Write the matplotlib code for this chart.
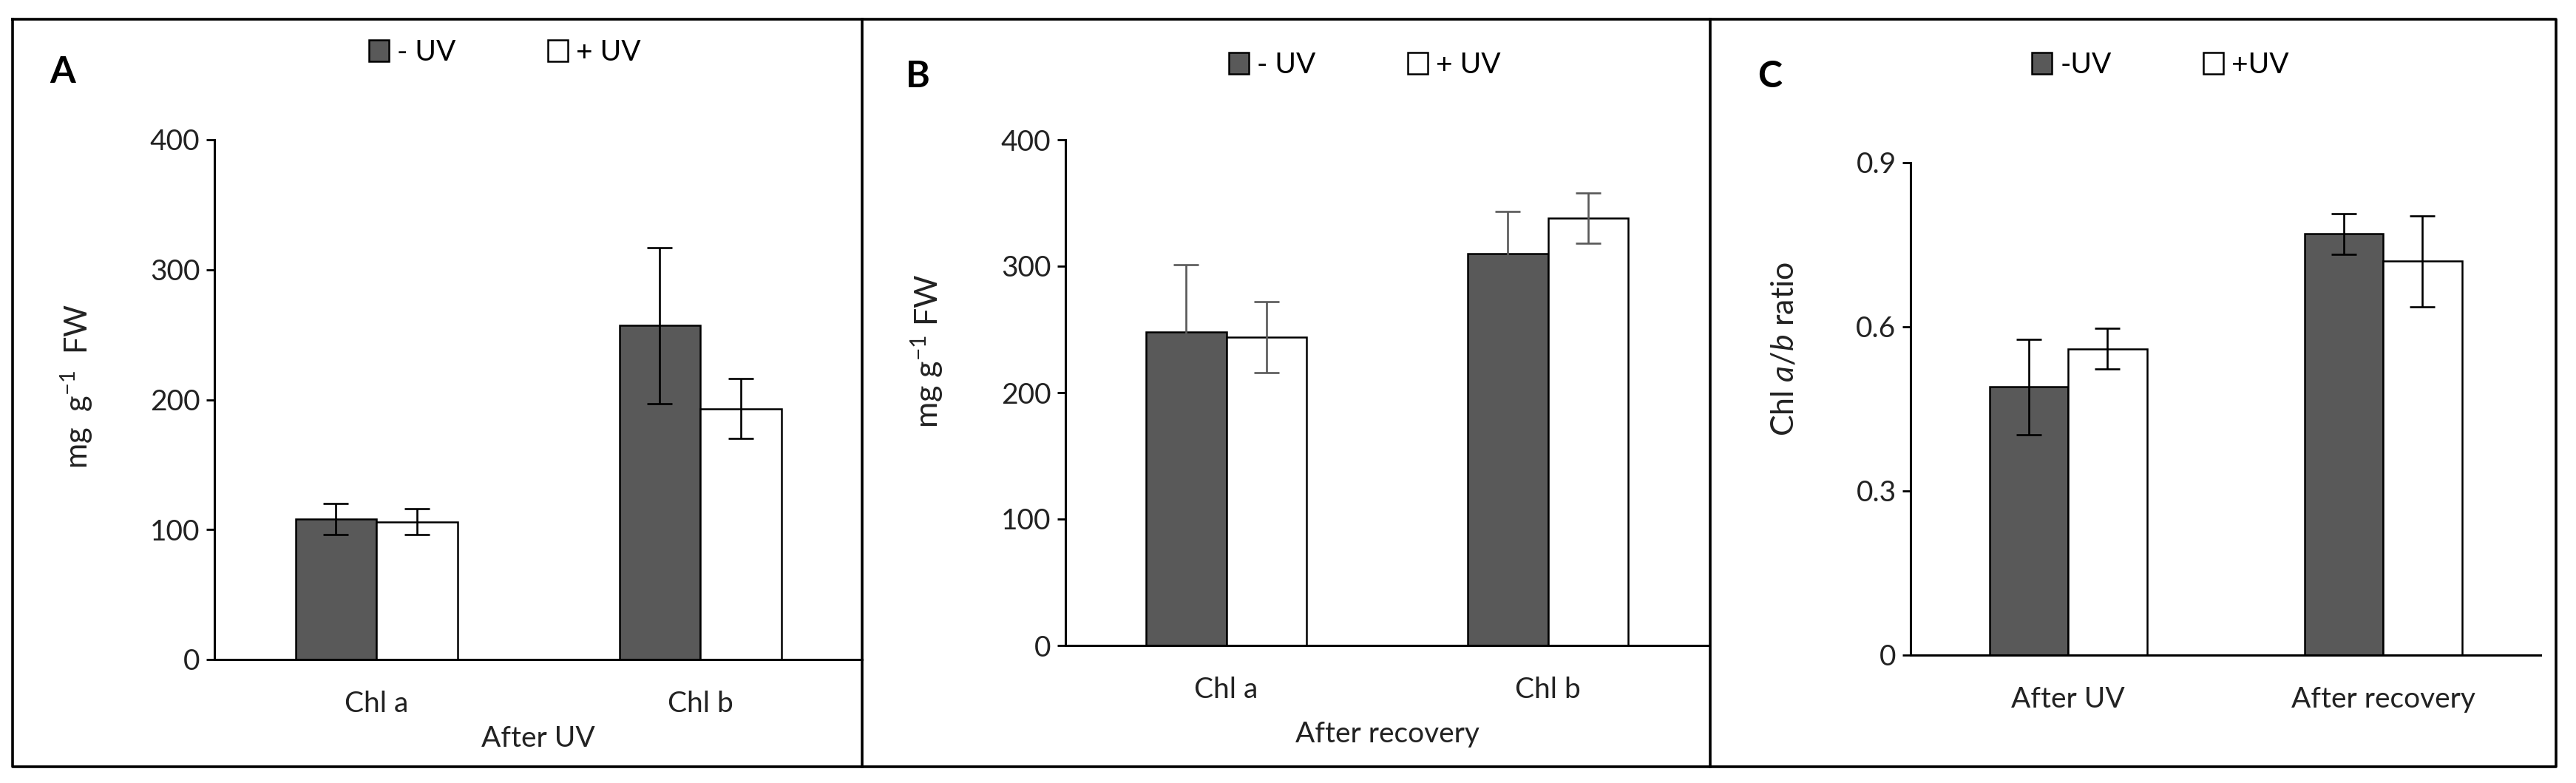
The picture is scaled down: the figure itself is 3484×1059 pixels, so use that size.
import numpy as np
import matplotlib
matplotlib.use("Agg")
import matplotlib.pyplot as plt
from matplotlib.lines import Line2D
from matplotlib.patches import Patch

plt.rcParams['font.family'] = ['Lato', 'DejaVu Sans']
plt.rcParams['mathtext.fontset'] = 'custom'
plt.rcParams['mathtext.rm'] = 'Lato'
plt.rcParams['mathtext.it'] = 'Lato:italic'

# data
chl_cats = ['Chl a', 'Chl b']
a_minus = [108, 257]
a_minus_err = [12, 60]
a_plus = [106, 193]
a_plus_err = [10, 23]

b_minus = [248, 310]
b_minus_err = [53, 33]
b_plus = [244, 338]
b_plus_err = [28, 20]

ratio_cats = ['After UV', 'After recovery']
c_minus = [0.49, 0.77]
c_minus_err = [0.087, 0.037]
c_plus = [0.56, 0.72]
c_plus_err = [0.037, 0.083]

chl_ticks = [0, 100, 200, 300, 400]
chl_ticklabels = ['0', '100', '200', '300', '400']
ratio_ticks = [0, 0.3, 0.6, 0.9]
ratio_ticklabels = ['0', '0.3', '0.6', '0.9']

W, H = 3484, 1059
DPI = 100
DARK = '#595959'
FS = 28

fig = plt.figure(figsize=(W / DPI, H / DPI), dpi=DPI)


def px_axes(left, right, y0, ytop):
    return fig.add_axes([left / W, (H - y0) / H, (right - left) / W, (y0 - ytop) / H])


def draw_panel(ax, cats, minus, minus_err, plus, plus_err, ticks, ticklabels, ecolor):
    x = np.arange(len(cats))
    w = 0.25
    ax.bar(x - w / 2, minus, w, color=DARK, edgecolor='black', linewidth=1.8, zorder=2)
    ax.bar(x + w / 2, plus, w, color='white', edgecolor='black', linewidth=1.8, zorder=2)
    ax.errorbar(x - w / 2, minus, yerr=minus_err, fmt='none', ecolor=ecolor,
                elinewidth=1.9, capsize=12, capthick=1.9, zorder=3)
    ax.errorbar(x + w / 2, plus, yerr=plus_err, fmt='none', ecolor=ecolor,
                elinewidth=1.9, capsize=12, capthick=1.9, zorder=3)
    ax.set_xlim(-0.5, len(cats) - 0.5)
    ax.set_ylim(ticks[0], ticks[-1])
    ax.set_xticks(x)
    ax.set_xticklabels(cats, fontsize=FS)
    ax.set_yticks(ticks)
    ax.set_yticklabels(ticklabels, fontsize=FS)
    for s in ['top', 'right']:
        ax.spines[s].set_visible(False)
    for s in ['left', 'bottom']:
        ax.spines[s].set_linewidth(2.2)
    ax.tick_params(axis='x', length=0, pad=30, labelcolor='#222222')
    ax.tick_params(axis='y', length=8, width=2.0, pad=6, labelcolor='#222222')
    ax.patch.set_alpha(0)


def add_legend(cx, cy, labels):
    handles = [Patch(facecolor=DARK, edgecolor='black', linewidth=1.8),
               Patch(facecolor='white', edgecolor='black', linewidth=1.8)]
    fig.legend(handles, labels, loc='center', bbox_to_anchor=(cx / W, 1 - cy / H),
               ncol=2, frameon=False, fontsize=FS, handlelength=0.7, handleheight=0.75,
               handletextpad=0.28, columnspacing=3.2, borderaxespad=0, borderpad=0)


# panel A
axA = px_axes(290, 1166, 892, 189)
draw_panel(axA, chl_cats, a_minus, a_minus_err, a_plus, a_plus_err,
           chl_ticks, chl_ticklabels, 'black')
axA.set_ylabel(r'mg  g$^{\mathregular{-1}}$  FW', fontsize=30, va='center', ha='center',
               color='#222222')
axA.yaxis.set_label_coords((104 - 290) / 876, (892 - 522) / 703)
axA.set_xlabel('After UV', fontsize=FS, va='center', color='#222222')
axA.xaxis.set_label_coords(0.5, (892 - 999) / 703)
add_legend(683, 71, ['- UV', '+ UV'])
fig.text(85 / W, 1 - 97 / H, 'A', fontsize=36, fontweight='bold', ha='center', va='center')

# panel B
axB = px_axes(1441, 2311, 873, 189)
draw_panel(axB, chl_cats, b_minus, b_minus_err, b_plus, b_plus_err,
           chl_ticks, chl_ticklabels, DARK)
axB.set_ylabel(r'mg g$^{\mathregular{-1}}$ FW', fontsize=31, va='center', ha='center',
               color='#222222')
axB.yaxis.set_label_coords((1254 - 1441) / 870, (873 - 475) / 684)
axB.set_xlabel('After recovery', fontsize=FS, va='center', color='#222222')
axB.xaxis.set_label_coords(0.5, (873 - 993) / 684)
add_legend(1846, 88, ['- UV', '+ UV'])
fig.text(1241 / W, 1 - 103 / H, 'B', fontsize=36, fontweight='bold', ha='center', va='center')

# panel C
axC = px_axes(2584, 3436, 886, 220)
draw_panel(axC, ratio_cats, c_minus, c_minus_err, c_plus, c_plus_err,
           ratio_ticks, ratio_ticklabels, 'black')
axC.set_ylabel(r'Chl $a/b$ ratio', fontsize=31, va='center', ha='center', color='#222222')
axC.yaxis.set_label_coords((2413 - 2584) / 852, (886 - 472) / 666)
add_legend(2922, 88, ['-UV', '+UV'])
fig.text(2394 / W, 1 - 103 / H, 'C', fontsize=36, fontweight='bold', ha='center', va='center')

# frame around the three panels
frame = dict(color='black', linewidth=2.6, transform=fig.transFigure, zorder=10)
x0, x1, yt, yb = 17 / W, 3457 / W, 1 - 26 / H, 1 - 1037 / H
fig.add_artist(Line2D([x0, x1, x1, x0, x0], [yt, yt, yb, yb, yt], **frame))
for xd in [1166, 2313]:
    fig.add_artist(Line2D([xd / W, xd / W], [yt, yb], **frame))

fig.savefig('out.png', dpi=DPI, facecolor='white')
